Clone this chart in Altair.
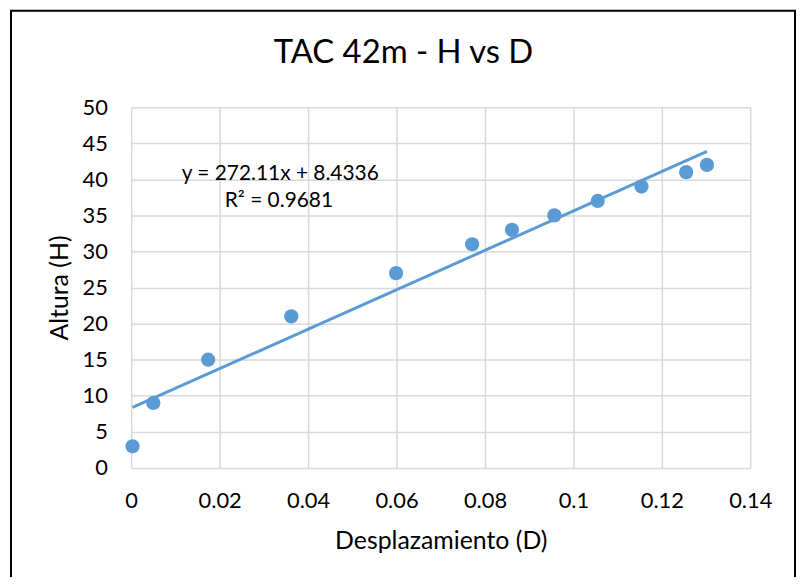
import altair as alt
import pandas as pd

# Data
desplazamiento = [0.0003, 0.0050, 0.0174, 0.0362, 0.0599, 0.0771, 0.0861, 0.0957, 0.1055, 0.1154, 0.1255, 0.1302]
altura = [3, 9, 15, 21, 27, 31, 33, 35, 37, 39, 41, 42]

x_ticks = [0, 0.02, 0.04, 0.06, 0.08, 0.10, 0.12, 0.14]
y_ticks = [0, 5, 10, 15, 20, 25, 30, 35, 40, 45, 50]

chart_title = "TAC 42m - H vs D"
x_title = "Desplazamiento (D)"
y_title = "Altura (H)"

eq_labels = ["y = 272.11x + 8.4336", "R² = 0.9681"]
eq_x = [0.0337, 0.0334]
eq_y = [39.9, 36.2]

BLUE = "#5B9BD5"
FONT = "Lato"

df = pd.DataFrame({"D": desplazamiento, "H": altura})
eq_df = pd.DataFrame({"label": eq_labels, "D": eq_x, "H": eq_y})
one = pd.DataFrame({"t": [chart_title]})

xs = alt.Scale(domain=[0, 0.14], nice=False, zero=False)
ys = alt.Scale(domain=[0, 50], nice=False)

x_enc = alt.X("D:Q", scale=xs, title=x_title,
              axis=alt.Axis(values=x_ticks, format="~g", labelPadding=23, titlePadding=17,
                            labelFlush=False, labelOverlap=False))
y_enc = alt.Y("H:Q", scale=ys, title=y_title,
              axis=alt.Axis(values=y_ticks, labelPadding=24, titlePadding=10,
                            labelFlush=False, labelOverlap=False))

base = alt.Chart(df)

points = base.mark_circle(size=205, color=BLUE, opacity=1).encode(x=x_enc, y=y_enc)

trend = base.transform_regression("D", "H").mark_line(color=BLUE, strokeWidth=3).encode(
    x=x_enc, y=y_enc
)

eq = alt.Chart(eq_df).mark_text(font=FONT, fontSize=21, color="black", align="center",
                                baseline="alphabetic").encode(
    x=x_enc, y=y_enc, text="label:N"
)

title = alt.Chart(one).mark_text(font=FONT, fontSize=33, color="black", align="center",
                                 baseline="alphabetic").encode(
    x=alt.value(274), y=alt.value(-44), text="t:N"
)

border = alt.Chart(one).mark_rect(fillOpacity=0, stroke="black", strokeWidth=2, clip=False).encode(
    x=alt.value(-121), x2=alt.value(668), y=alt.value(-97), y2=alt.value(500)
)

chart = alt.layer(border, trend, points, eq, title).properties(
    width=623, height=363,
    background="white",
    autosize=alt.AutoSizeParams(type="none"),
    padding={"left": 124, "top": 98, "right": 46, "bottom": 108},
).configure_view(stroke=None).configure_axis(
    grid=True, gridColor="#d9d9d9", gridWidth=1.5, domain=False, ticks=False, tickSize=0,
    labelFont=FONT, labelFontSize=22, labelColor="black",
    titleFont=FONT, titleFontSize=25, titleColor="black", titleFontWeight="normal",
)

chart.save("out.html", embed_options={"renderer": "svg", "actions": False})
